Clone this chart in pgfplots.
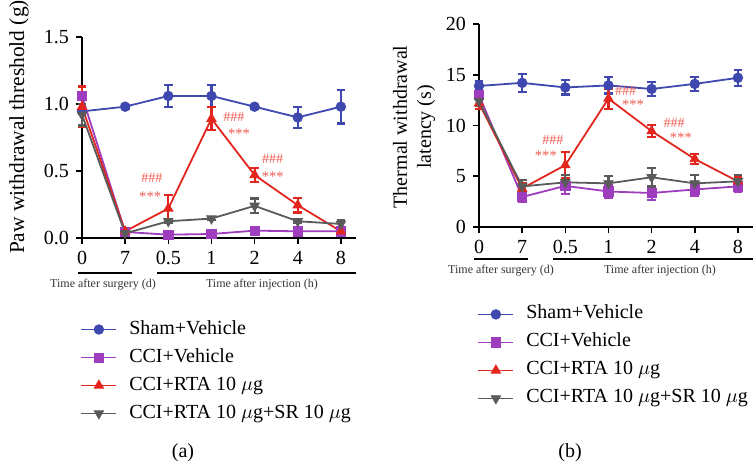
\documentclass[border=0pt]{standalone}
\usepackage{fontspec}
\setmainfont{Liberation Serif}
\usepackage{pgfplots}
\pgfplotsset{compat=1.18}

\definecolor{cblue}{RGB}{63,72,175}
\definecolor{cpurple}{RGB}{158,62,190}
\definecolor{cred}{RGB}{226,38,30}
\definecolor{cgray}{RGB}{90,90,90}
\definecolor{cann}{RGB}{240,90,80}

\pgfplotsset{
  panel/.style={
    scale only axis, width=137pt,
    axis lines=left, axis line style={-, line width=0.8pt},
    xmin=0, xmax=6.35, xtick={0,...,6}, xticklabels={0,7,0.5,1,2,4,8},
    tick align=outside, major tick length=3pt,
    tick style={line width=0.8pt, black},
    /pgf/number format/assume math mode=true,
    clip=false,
    legend cell align=left,
    legend image code/.code={
      \draw[mark repeat=2,mark phase=2,##1] plot coordinates {(0pt,0pt) (8.75pt,0pt) (17.5pt,0pt)};},
    legend style={draw=none, fill=none, inner sep=0pt, row sep=2.5pt, column sep=5pt,
      nodes={inner sep=1pt, text height=7pt, text depth=2.5pt}, font=\fontsize{10}{12}\selectfont},
  },
  eb/.style={error bars/.cd, y dir=both, y explicit,
    error bar style={line width=1.1pt},
    error mark options={rotate=90, mark size=2.2pt, line width=1.1pt}},
  sham/.style={color=cblue, line width=0.9pt, mark=*, mark size=2.4pt, mark options={solid, fill=cblue, draw=cblue, line width=0.4pt}, eb},
  cci/.style={color=cpurple, line width=0.9pt, mark=square*, mark size=2.3pt, mark options={solid, fill=cpurple, draw=cpurple, line width=0.4pt}, eb},
  rta/.style={color=cred, line width=0.9pt, mark=triangle*, mark size=2.7pt, mark options={solid, fill=cred, draw=cred, line width=0.4pt}, eb},
  sr/.style={color=cgray, line width=0.9pt, mark=triangle*, mark size=2.7pt, mark options={solid, rotate=180, fill=cgray, draw=cgray, line width=0.4pt}, eb},
}
\tikzset{
  hsh/.style={text=cann, font=\fontsize{7}{8}\selectfont, inner sep=0pt},
  ast/.style={text=cann, font=\fontsize{7.3}{8}\selectfont, inner sep=0pt},
}

\begin{document}
\begin{tikzpicture}
\useasboundingbox (0,0) rectangle (376.5pt,-230.5pt);

% ---------- panel (a)
\begin{axis}[panel, at={(41pt,-119pt)}, anchor=south west, height=100.5pt,
  ymin=0, ymax=1.5, ytick={0,0.5,1,1.5},
  yticklabel style={/pgf/number format/fixed, /pgf/number format/fixed zerofill, /pgf/number format/precision=1},
  ylabel={Paw withdrawal threshold (g)},
  ylabel style={at={(axis description cs:-0.23,0.552)}, anchor=center, font=\fontsize{10.7}{12}\selectfont},
  legend style={at={(axis description cs:-0.007,-0.396)}, anchor=north west},
]
\addplot[sham] coordinates {(0,0.945) +- (0,0.02) (1,0.98) +- (0,0.015) (2,1.06) +- (0,0.08) (3,1.06) +- (0,0.08) (4,0.98) +- (0,0.015) (5,0.90) +- (0,0.08) (6,0.98) +- (0,0.125)};
\addlegendentry{Sham+Vehicle}
\addplot[cci] coordinates {(0,1.06) +- (0,0.03) (1,0.045) +- (0,0.01) (2,0.025) +- (0,0.01) (3,0.03) +- (0,0.01) (4,0.055) +- (0,0.01) (5,0.05) +- (0,0.01) (6,0.05) +- (0,0.01)};
\addlegendentry{CCI+Vehicle}
\addplot[rta] coordinates {(0,0.98) +- (0,0.15) (1,0.05) +- (0,0.01) (2,0.22) +- (0,0.1) (3,0.89) +- (0,0.085) (4,0.47) +- (0,0.05) (5,0.245) +- (0,0.055) (6,0.05) +- (0,0.01)};
\addlegendentry{CCI+RTA 10 $\mu$g}
\addplot[sr] coordinates {(0,0.92) +- (0,0.08) (1,0.035) +- (0,0.01) (2,0.125) +- (0,0.01) (3,0.145) +- (0,0.01) (4,0.24) +- (0,0.055) (5,0.125) +- (0,0.01) (6,0.105) +- (0,0.03)};
\addlegendentry{CCI+RTA 10 $\mu$g+SR 10 $\mu$g}
\node[hsh] at (1.62,0.448) {\#\#\#};
\node[ast] at (1.58,0.306) {***};
\node[hsh] at (3.52,0.90) {\#\#\#};
\node[ast] at (3.64,0.776) {***};
\node[hsh] at (4.42,0.59) {\#\#\#};
\node[ast] at (4.42,0.455) {***};
\end{axis}

% ---------- panel (b)
\begin{axis}[panel, at={(239.5pt,-113.5pt)}, anchor=south west, height=101.5pt,
  ymin=0, ymax=20, ytick={0,5,10,15,20},
  ylabel={Thermal withdrawal\\latency (s)},
  ylabel style={at={(axis description cs:-0.237,0.493)}, anchor=center, align=center, font=\fontsize{10}{12}\selectfont},
  legend style={at={(axis description cs:-0.007,-0.372)}, anchor=north west},
]
\addplot[sham] coordinates {(0,13.9) +- (0,0.5) (1,14.2) +- (0,0.9) (2,13.75) +- (0,0.7) (3,13.95) +- (0,0.8) (4,13.6) +- (0,0.7) (5,14.1) +- (0,0.7) (6,14.7) +- (0,0.8)};
\addlegendentry{Sham+Vehicle}
\addplot[cci] coordinates {(0,13.0) +- (0,0.5) (1,2.96) +- (0,0.5) (2,4.05) +- (0,0.8) (3,3.5) +- (0,0.6) (4,3.35) +- (0,0.7) (5,3.7) +- (0,0.6) (6,4.0) +- (0,0.5)};
\addlegendentry{CCI+Vehicle}
\addplot[rta] coordinates {(0,12.2) +- (0,0.6) (1,3.8) +- (0,0.5) (2,6.1) +- (0,1.3) (3,12.65) +- (0,1.0) (4,9.45) +- (0,0.6) (5,6.7) +- (0,0.5) (6,4.5) +- (0,0.4)};
\addlegendentry{CCI+RTA 10 $\mu$g}
\addplot[sr] coordinates {(0,12.4) +- (0,0.5) (1,4.0) +- (0,0.6) (2,4.4) +- (0,0.7) (3,4.3) +- (0,0.7) (4,4.9) +- (0,0.9) (5,4.3) +- (0,0.8) (6,4.5) +- (0,0.6)};
\addlegendentry{CCI+RTA 10 $\mu$g+SR 10 $\mu$g}
\node[hsh] at (1.71,8.57) {\#\#\#};
\node[ast] at (1.55,7.0) {***};
\node[hsh] at (3.40,13.4) {\#\#\#};
\node[ast] at (3.57,12.0) {***};
\node[hsh] at (4.52,10.25) {\#\#\#};
\node[ast] at (4.68,8.77) {***};
\end{axis}

% group underlines and captions
\begin{scope}[line width=1pt]
\draw (39pt,-136.5pt) -- (66pt,-136.5pt);
\draw (78.5pt,-136.5pt) -- (178pt,-136.5pt);
\draw (237pt,-129.5pt) -- (264pt,-129.5pt);
\draw (276.5pt,-129.5pt) -- (376.5pt,-129.5pt);
\end{scope}
\begin{scope}[every node/.style={font=\fontsize{6}{7}\selectfont, text=black!80, inner sep=0pt}]
\node at (51.5pt,-142.5pt) {Time after surgery (d)};
\node at (131pt,-142.5pt) {Time after injection (h)};
\node at (250.5pt,-135.5pt) {Time after surgery (d)};
\node at (330pt,-135.5pt) {Time after injection (h)};
\end{scope}
\node[font=\fontsize{10}{12}\selectfont] at (91.5pt,-226.5pt) {(a)};
\node[font=\fontsize{10}{12}\selectfont] at (285pt,-226.5pt) {(b)};
\end{tikzpicture}
\end{document}
